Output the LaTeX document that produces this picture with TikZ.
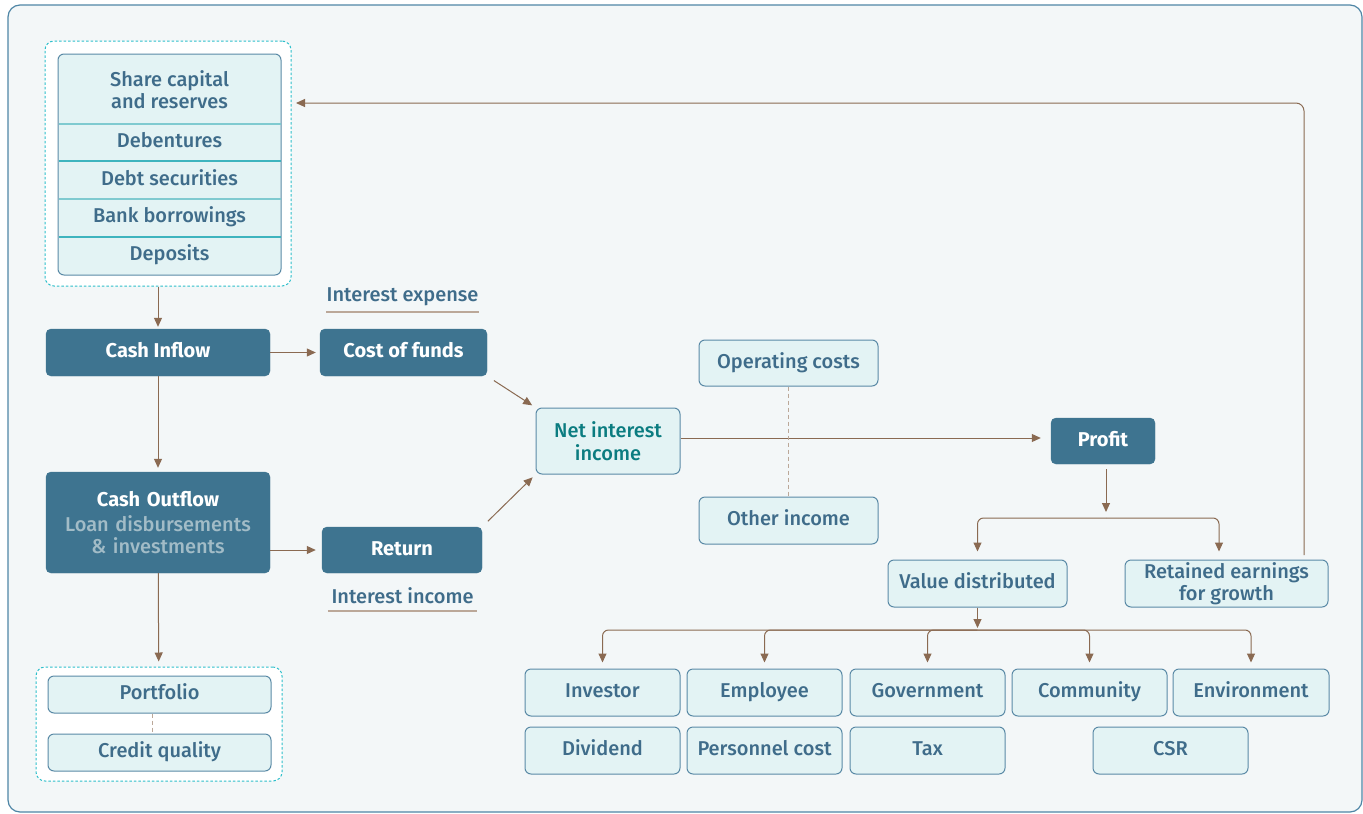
\documentclass[tikz,border=0pt]{standalone}
\usepackage{fontspec}
\setmainfont{Fira Sans}[UprightFont={* Medium},BoldFont={* Bold}]
\usetikzlibrary{arrows.meta, positioning}
\definecolor{fbbg}{HTML}{F3F7F8}
\definecolor{fbframe}{HTML}{4F86A6}
\definecolor{fbdark}{HTML}{3E7490}
\definecolor{fblight}{HTML}{E3F3F4}
\definecolor{fbedge}{HTML}{5A8AA6}
\definecolor{fbtext}{HTML}{3F6C8A}
\definecolor{fbteal}{HTML}{0B7C80}
\definecolor{fbcyan}{HTML}{2DBFCB}
\definecolor{fbbrown}{HTML}{8A6A52}
\definecolor{fbsub}{HTML}{A2BCC7}
\definecolor{fbline}{HTML}{BBA899}
\definecolor{fbdiv}{HTML}{3EB4BE}
\definecolor{fbdivlt}{HTML}{7FCAD0}

\begin{document}
\begin{tikzpicture}[x=1pt, y=-1pt,
    darkbox/.style={rectangle, rounded corners=5pt, fill=fbdark, draw=fbdark, text=white,
                 align=center, inner sep=0pt, font=\bfseries\fontsize{20}{22}\selectfont},
    lightbox/.style={rectangle, rounded corners=6pt, fill=fblight, draw=fbedge, line width=1pt,
                 text=fbtext, align=center, inner sep=0pt, font=\fontsize{20}{22.5}\selectfont},
    oneline/.style={text height=14pt, text depth=4pt},
    tag/.style={lightbox, oneline},
    cell/.style={text=fbtext, align=center, inner sep=0pt, font=\fontsize{20}{22}\selectfont},
    groupbox/.style={rectangle, rounded corners=9pt, fill=white, draw=fbcyan, line width=1pt,
                 dash pattern=on 2.5pt off 2pt, inner sep=0pt},
    note/.style={text=fbtext, inner sep=0pt, minimum width=149pt, minimum height=30pt,
                 font=\fontsize{20}{22}\selectfont},
    arr/.style={-{Triangle[length=9pt, width=8pt]}, line width=1pt, draw=fbbrown},
    link/.style={line width=1.3pt, draw=fbline, dash pattern=on 4pt off 3pt},
    divider/.style={line width=1.2pt, draw=fbdiv}
  ]
  \useasboundingbox (0,0) rectangle (1363,814);
  \fill[white] (0,0) rectangle (1363,814);
  \draw[fbframe, line width=1.2pt, fill=fbbg, rounded corners=12pt] (8,5) rectangle (1362,812);

  % sources of funds
  \node[groupbox, minimum width=246pt, minimum height=245pt] (srcgroup) at (168,163.5) {};
  \node[lightbox, minimum width=223pt, minimum height=221pt] (stack) at (169.5,164.5) {};
  \draw[divider, fbdivlt] (58.5,124) -- (280.5,124);
  \draw[divider] (58.5,161) -- (280.5,161);
  \draw[divider, fbdivlt] (58.5,199) -- (280.5,199);
  \draw[divider] (58.5,237) -- (280.5,237);
  \node[cell] (share) at (169.5,90) {Share capital\\and reserves};
  \node[cell, oneline] (deben) at (169.5,142) {Debentures};
  \node[cell, oneline] (debt) at (169.5,180) {Debt securities};
  \node[cell, oneline] (bank) at (169.5,217.5) {Bank borrowings};
  \node[cell, oneline] (depos) at (169.5,255) {Deposits};

  % cash flows
  \node[darkbox, oneline, minimum width=224pt, minimum height=47pt] (inflow) at (158,352.5) {Cash Inflow};
  \node[darkbox, oneline, minimum width=167pt, minimum height=47pt] (cost) at (403.5,352.5) {Cost of funds};
  \node[darkbox, minimum width=224pt, minimum height=101pt, text width=224pt] (outflow) at (158,522.5)
    {Cash Outflow\\[3pt]\textcolor{fbsub}{\mdseries Loan disbursements}\\\textcolor{fbsub}{\mdseries\& investments}\\[-6pt]};
  \node[darkbox, oneline, minimum width=160pt, minimum height=46pt] (return) at (402,550) {Return};
  \node[note] (expense) at (402.5,297) {Interest expense};
  \node[note] (income) at (402.5,596) {Interest income};
  \draw[line width=1.5pt, fbline] (expense.south west) -- (expense.south east);
  \draw[line width=1.5pt, fbline] (income.south west) -- (income.south east);

  % asset quality
  \node[groupbox, minimum width=246pt, minimum height=114pt] (assetgroup) at (159,724) {};
  \node[tag, minimum width=223pt, minimum height=37pt] (portfolio) at (159.5,694.5) {Portfolio};
  \node[tag, minimum width=223pt, minimum height=37pt] (credit) at (159.5,752.5) {Credit quality};

  % income
  \node[lightbox, minimum width=144pt, minimum height=66pt, text=fbteal] (nii) at (608,441) {Net interest\\income};
  \node[tag, minimum width=179pt, minimum height=46pt] (opcost) at (788.5,363) {Operating costs};
  \node[tag, minimum width=179pt, minimum height=47pt] (other) at (788.5,520.5) {Other income};
  \node[darkbox, oneline, minimum width=104pt, minimum height=46pt] (profit) at (1103,441) {Profit};
  \node[tag, minimum width=179pt, minimum height=47pt] (value) at (977.5,583.5) {Value distributed};
  \node[lightbox, minimum width=203pt, minimum height=47pt] (retained) at (1226.5,583.5) {Retained earnings\\for growth};

  % stakeholders
  \node[tag, minimum width=155pt, minimum height=47pt] (investor) at (602.5,692.5) {Investor};
  \node[tag, minimum width=155pt, minimum height=47pt] (employee) at (764.5,692.5) {Employee};
  \node[tag, minimum width=155pt, minimum height=47pt] (govt) at (927.5,692.5) {Government};
  \node[tag, minimum width=155pt, minimum height=47pt] (community) at (1089.5,692.5) {Community};
  \node[tag, minimum width=156pt, minimum height=47pt] (environ) at (1251,692.5) {Environment};
  \node[tag, minimum width=155pt, minimum height=47pt] (dividend) at (602.5,750.5) {Dividend};
  \node[tag, minimum width=155pt, minimum height=47pt] (personnel) at (764.5,750.5) {Personnel cost};
  \node[tag, minimum width=155pt, minimum height=47pt] (tax) at (927.5,750.5) {Tax};
  \node[tag, minimum width=155pt, minimum height=47pt] (csr) at (1170.5,750.5) {CSR};

  \coordinate (split) at (1106,518);
  \coordinate (split2) at (977.5,630);
  \coordinate (fbstart) at (1304,555);
  \coordinate (fbend) at (296,103);

  % connectors
  \draw[arr, shorten >=2pt] (srcgroup.south -| inflow) -- (inflow);
  \draw[arr, shorten >=4pt] (inflow) -- (cost);
  \draw[arr, shorten >=4pt] (inflow) -- (outflow);
  \draw[arr, shorten >=5pt] (outflow) -- (assetgroup);
  \draw[arr, shorten >=6pt] (outflow.east |- return) -- (return.west);
  \draw[arr, shorten <=8pt, shorten >=4pt] (cost.south east) -- (nii.north west);
  \draw[arr, shorten <=8pt, shorten >=4pt] (return.north east) -- (nii.south west);
  \draw[arr, shorten >=10pt] (nii.east |- 0,438) -- (profit.west |- 0,438);
  \draw[link] (opcost) -- (other);
  \draw[link] ([xshift=-7pt]portfolio.south) -- ([xshift=-7pt]credit.north);
  \draw[arr, shorten <=5pt, shorten >=6pt] (profit.south -| split) -- (split);
  \draw[arr, rounded corners=6pt, shorten >=8pt] (split) -| (value);
  \draw[arr, rounded corners=6pt, shorten >=8pt] (split) -| (retained.north -| 1219,0);
  \draw[arr, rounded corners=8pt] (fbstart) |- (fbend);
  \draw[arr, shorten >=2pt] (value) -- (split2);
  \foreach \who in {investor, employee, govt, community, environ}
    \draw[arr, rounded corners=6pt, shorten >=6pt] (split2) -| (\who);
\end{tikzpicture}
\end{document}
